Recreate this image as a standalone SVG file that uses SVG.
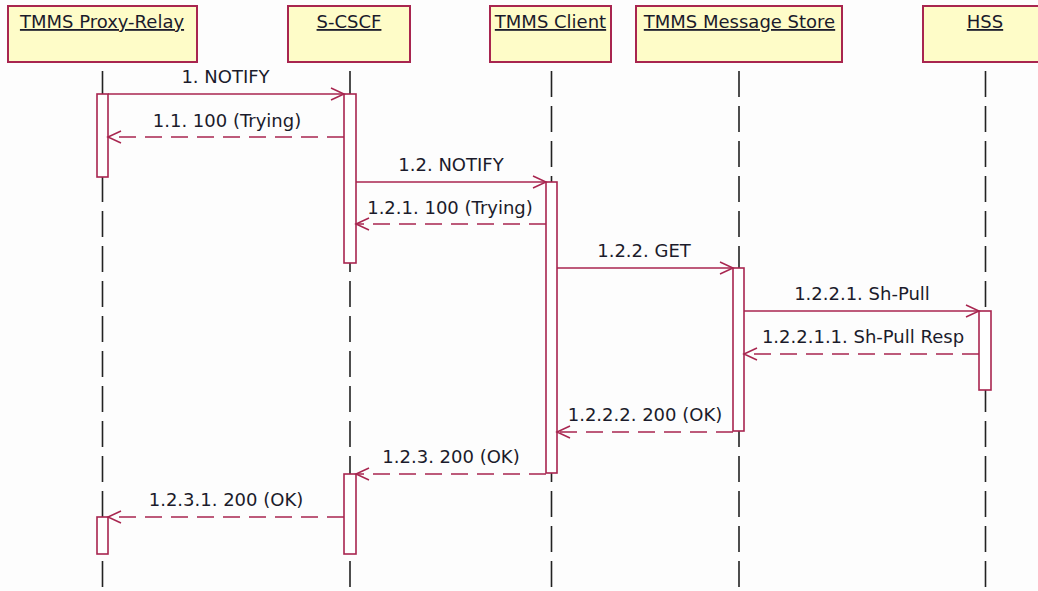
<svg xmlns="http://www.w3.org/2000/svg" width="1038" height="591" viewBox="0 0 1038 591">
<style>
.hd{fill:#fefcc8;stroke:#a8254f;stroke-width:2}
.ht{font-family:"DejaVu Sans",Verdana,sans-serif;font-size:18px;fill:#1b1b2b;text-anchor:middle;text-decoration:underline}
.ll{stroke:#222;stroke-width:1.6;stroke-dasharray:26 9;fill:none}
.act{fill:#fff;stroke:#a8254f;stroke-width:1.6}
.msg{stroke:#a8254f;stroke-width:1.5;fill:none;marker-end:url(#ah)}
.ret{stroke-dasharray:17 9}
.lb{font-family:"DejaVu Sans",Verdana,sans-serif;font-size:18px;fill:#1b1b2b;text-anchor:middle}
</style>
<defs>
<marker id="ah" markerUnits="userSpaceOnUse" markerWidth="16" markerHeight="14" refX="14" refY="7" orient="auto">
<path d="M1,1 L14,7 L1,13" fill="none" stroke="#a8254f" stroke-width="1.5"/>
</marker>
</defs>
<rect width="1038" height="591" fill="#fdfdfd"/>
<g id="proxy">
<rect class="hd" x="8" y="6" width="189" height="56"/>
<text class="ht" x="102" y="28">TMMS Proxy-Relay</text>
<line class="ll" x1="102.5" y1="71" x2="102.5" y2="591"/>
<rect class="act" x="97" y="94" width="11" height="83"/>
<rect class="act" x="97" y="517" width="11" height="37"/>
</g>
<g id="scscf">
<rect class="hd" x="288" y="6" width="122" height="56"/>
<text class="ht" x="349" y="28">S-CSCF</text>
<line class="ll" x1="350" y1="71" x2="350" y2="591"/>
<rect class="act" x="344" y="94" width="12" height="169"/>
<rect class="act" x="344" y="474" width="12" height="80"/>
</g>
<g id="client">
<rect class="hd" x="490" y="6" width="121" height="56"/>
<text class="ht" x="550.5" y="28">TMMS Client</text>
<line class="ll" x1="551.5" y1="71" x2="551.5" y2="591"/>
<rect class="act" x="546" y="182" width="11" height="291"/>
</g>
<g id="store">
<rect class="hd" x="636" y="6" width="206" height="56"/>
<text class="ht" x="739.5" y="28">TMMS Message Store</text>
<line class="ll" x1="739" y1="71" x2="739" y2="591"/>
<rect class="act" x="733" y="268" width="11" height="163"/>
</g>
<g id="hss">
<rect class="hd" x="923" y="6" width="126" height="56"/>
<text class="ht" x="985" y="28">HSS</text>
<line class="ll" x1="985.5" y1="71" x2="985.5" y2="591"/>
<rect class="act" x="979" y="311" width="12" height="79"/>
</g>
<g id="connectors">
<line class="msg" x1="108" y1="94" x2="344" y2="94"/>
<text class="lb" x="225.5" y="83">1. NOTIFY</text>
<line class="msg ret" x1="344" y1="137" x2="108" y2="137"/>
<text class="lb" x="227" y="127">1.1. 100 (Trying)</text>
<line class="msg" x1="356" y1="182" x2="546" y2="182"/>
<text class="lb" x="451" y="171">1.2. NOTIFY</text>
<line class="msg ret" x1="546" y1="224" x2="356" y2="224"/>
<text class="lb" x="450" y="214">1.2.1. 100 (Trying)</text>
<line class="msg" x1="557" y1="268" x2="733" y2="268"/>
<text class="lb" x="644" y="257">1.2.2. GET</text>
<line class="msg" x1="744" y1="311" x2="979" y2="311"/>
<text class="lb" x="862" y="300">1.2.2.1. Sh-Pull</text>
<line class="msg ret" x1="979" y1="354" x2="744" y2="354"/>
<text class="lb" x="863" y="343">1.2.2.1.1. Sh-Pull Resp</text>
<line class="msg ret" x1="733" y1="432" x2="557" y2="432"/>
<text class="lb" x="645" y="421">1.2.2.2. 200 (OK)</text>
<line class="msg ret" x1="546" y1="474" x2="356" y2="474"/>
<text class="lb" x="451" y="463">1.2.3. 200 (OK)</text>
<line class="msg ret" x1="344" y1="517" x2="108" y2="517"/>
<text class="lb" x="226" y="506">1.2.3.1. 200 (OK)</text>
</g>
</svg>
